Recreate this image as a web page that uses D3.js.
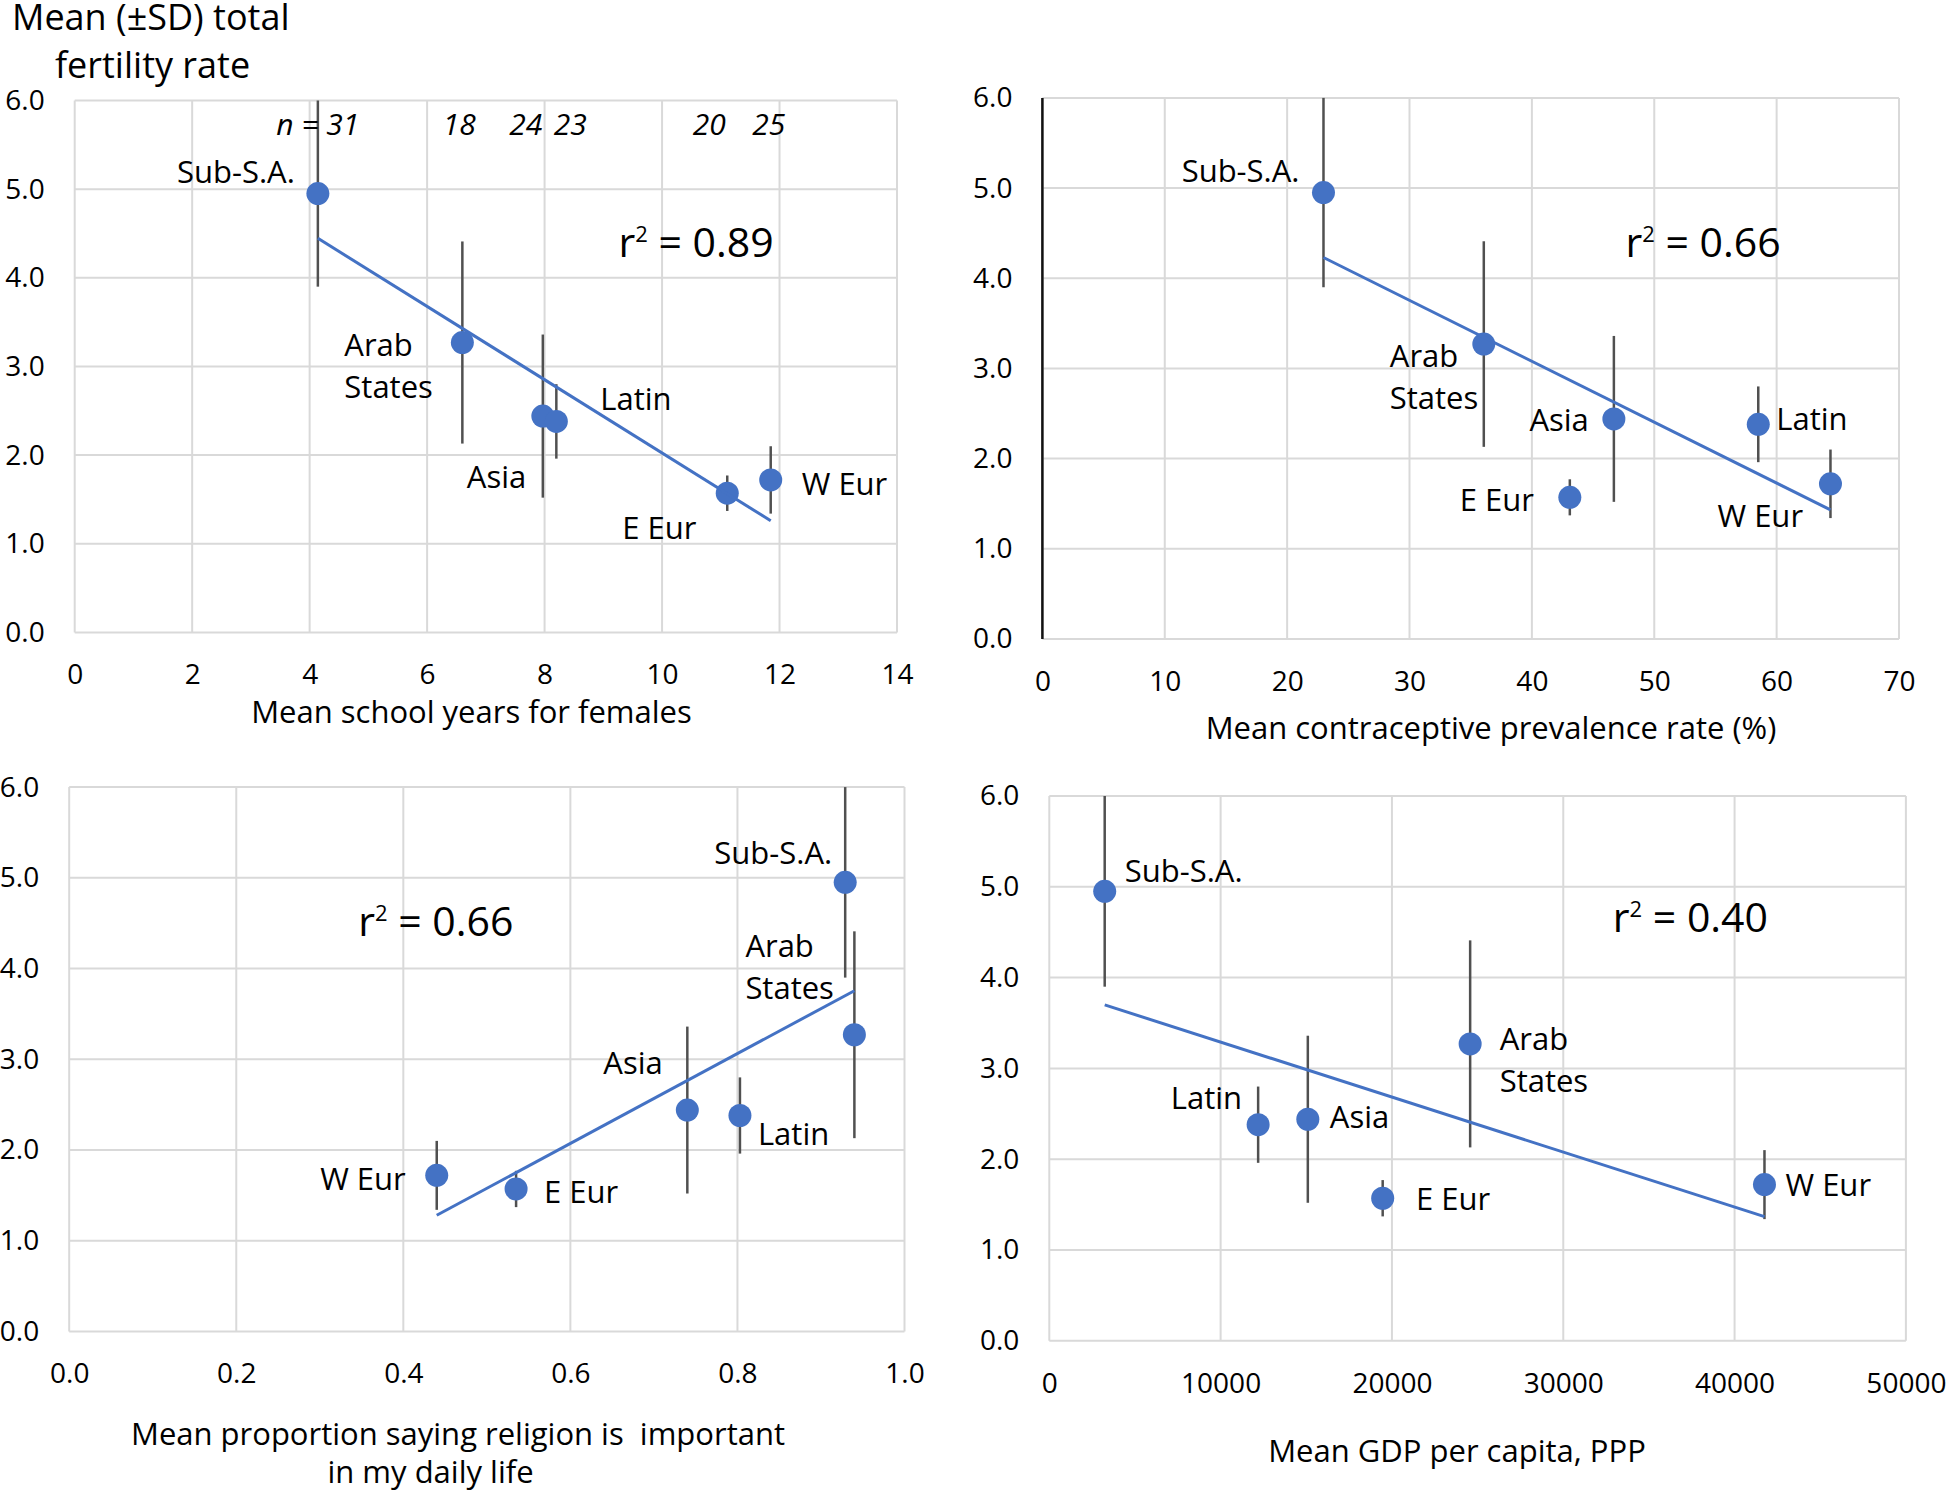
<!DOCTYPE html>
<html>
<head>
<meta charset="utf-8">
<script src="https://cdn.jsdelivr.net/npm/d3@7"></script>
<style>
  body { margin: 0; background: #fff; }
  svg { display: block; font-family: "Open Sans", sans-serif; }
</style>
</head>
<body>
<svg id="chart" width="1946" height="1492"></svg>
<script>
// DATA (region means)
var regions = ["Sub-S.A.", "Arab States", "Asia", "Latin", "E Eur", "W Eur"];
var regionLines = [["Sub-S.A."], ["Arab", "States"], ["Asia"], ["Latin"], ["E Eur"], ["W Eur"]];
var sampleN = [31, 18, 24, 23, 20, 25];
var tfrMean = [4.95, 3.27, 2.44, 2.38, 1.57, 1.72];
var tfrSD = [1.05, 1.14, 0.92, 0.42, 0.20, 0.38];

var schoolYears = [4.14, 6.60, 7.97, 8.20, 11.11, 11.85];
var contraception = [22.97, 36.07, 46.7, 58.5, 43.1, 64.4];
var religion = [0.929, 0.940, 0.740, 0.803, 0.535, 0.440];
var gdp = [3234, 24565, 15090, 12190, 19460, 41745];

var rSquared = ["0.89", "0.66", "0.66", "0.40"];

var yTicks = [0, 1, 2, 3, 4, 5, 6];
var schoolTicks = [0, 2, 4, 6, 8, 10, 12, 14];
var contraTicks = [0, 10, 20, 30, 40, 50, 60, 70];
var religionTicks = [0, 0.2, 0.4, 0.6, 0.8, 1.0];
var gdpTicks = [0, 10000, 20000, 30000, 40000, 50000];

// STYLE
var blue = "#4472C4";
var gridColor = "#d9d9d9";
var barColor = "#505050";
var r = 11.5;

var svg = d3.select("#chart");

// panel layout: plot box, axis titles, label offsets (dx, dy from point, anchor)
var panels = [
    {
        xs: schoolYears, domain: [0, 14], ticks: schoolTicks, fmt: d3.format("d"),
        box: { l: 74.7, r: 897, t: 100.5, b: 632.4 },
        titles: [{ text: "Mean school years for females", x: 471.5, y: 712.6 }],
        r2: { x: 618.5, y: 243 },
        labels: [[-23, -21, "end"], [-118, 2.5, "start"], [-76, 61, "start"],
                 [44, -22, "start"], [-105, 35, "start"], [31, 4, "start"]],
        nLabels: { y: 124, dx: [0, -3, -17, 14, -18, -2] }
    },
    {
        xs: contraception, domain: [0, 70], ticks: contraTicks, fmt: d3.format("d"),
        box: { l: 1042.4, r: 1899, t: 97.9, b: 638.9 },
        titles: [{ text: "Mean contraceptive prevalence rate (%)", x: 1491, y: 728 }],
        r2: { x: 1625.4, y: 242.4 },
        blackAxis: true,
        labels: [[-24, -21, "end"], [-94, 12, "start"], [-25, 1, "end"],
                 [18, -5, "start"], [-36, 2.5, "end"], [-113, 32, "start"]]
    },
    {
        xs: religion, domain: [0, 1], ticks: religionTicks, fmt: d3.format(".1f"),
        box: { l: 69.2, r: 904.5, t: 787.1, b: 1331.4 },
        titles: [{ text: "Mean proportion saying religion is  important", x: 458, y: 1434.6 },
                 { text: "in my daily life", x: 430.5, y: 1472.5 }],
        r2: { x: 358.2, y: 922 },
        labels: [[-13, -29, "end"], [-109, -88.7, "start"], [-84, -46.6, "start"],
                 [18, 19, "start"], [28, 3.3, "start"], [-31, 3.3, "end"]]
    },
    {
        xs: gdp, domain: [0, 50000], ticks: gdpTicks, fmt: d3.format("d"),
        box: { l: 1049.3, r: 1905.9, t: 796, b: 1340.8 },
        titles: [{ text: "Mean GDP per capita, PPP", x: 1457, y: 1451 }],
        r2: { x: 1612.8, y: 917.3 },
        labels: [[20, -20, "start"], [29.5, -5, "start"], [22, -2.3, "start"],
                 [-16, -27, "end"], [33.4, 1, "start"], [21, 0.5, "start"]]
    }
];

// least squares fit of the means
function fit(xs, ys) {
    var mx = d3.mean(xs), my = d3.mean(ys);
    var sxy = d3.sum(xs, function (d, i) { return (d - mx) * (ys[i] - my); });
    var sxx = d3.sum(xs, function (d) { return (d - mx) * (d - mx); });
    var slope = sxy / sxx;
    return { slope: slope, intercept: my - slope * mx };
}

panels.forEach(function (p, pi) {
    var x = d3.scaleLinear().domain(p.domain).range([p.box.l, p.box.r]);
    var y = d3.scaleLinear().domain([0, 6]).range([p.box.b, p.box.t]);
    var g = svg.append("g");

    // gridlines
    g.selectAll(".vgrid").data(p.ticks).enter().append("line")
        .attr("x1", function (d) { return x(d); }).attr("x2", function (d) { return x(d); })
        .attr("y1", p.box.t).attr("y2", p.box.b)
        .attr("stroke", gridColor).attr("stroke-width", 2);
    g.selectAll(".hgrid").data(yTicks).enter().append("line")
        .attr("x1", p.box.l).attr("x2", p.box.r)
        .attr("y1", function (d) { return y(d); }).attr("y2", function (d) { return y(d); })
        .attr("stroke", gridColor).attr("stroke-width", 2);

    if (p.blackAxis) {
        g.append("line").attr("x1", p.box.l).attr("x2", p.box.l)
            .attr("y1", p.box.t).attr("y2", p.box.b)
            .attr("stroke", "#111").attr("stroke-width", 2.5);
    }

    // axes (labels only, Excel style)
    var ax = g.append("g").attr("transform", "translate(0," + p.box.b + ")")
        .call(d3.axisBottom(x).tickValues(p.ticks).tickFormat(p.fmt).tickSize(0).tickPadding(32));
    var ay = g.append("g").attr("transform", "translate(" + p.box.l + ",0)")
        .call(d3.axisLeft(y).tickValues(yTicks).tickFormat(d3.format(".1f")).tickSize(0).tickPadding(30));
    [ax, ay].forEach(function (a) {
        a.select(".domain").remove();
        a.selectAll("text").attr("font-size", 28).attr("fill", "#000")
            .attr("font-family", "'Open Sans', sans-serif");
    });

    // axis titles
    p.titles.forEach(function (t) {
        g.append("text").attr("x", t.x).attr("y", t.y).attr("dy", "0.35em")
            .attr("text-anchor", "middle").attr("font-size", 31)
            .style("white-space", "pre").text(t.text);
    });

    // error bars
    g.selectAll(".err").data(tfrMean).enter().append("line")
        .attr("x1", function (d, i) { return x(p.xs[i]); })
        .attr("x2", function (d, i) { return x(p.xs[i]); })
        .attr("y1", function (d, i) { return y(Math.min(6, d + tfrSD[i])); })
        .attr("y2", function (d, i) { return y(d - tfrSD[i]); })
        .attr("stroke", barColor).attr("stroke-width", 2.5);

    // points
    g.selectAll(".pt").data(tfrMean).enter().append("circle")
        .attr("cx", function (d, i) { return x(p.xs[i]); })
        .attr("cy", function (d) { return y(d); })
        .attr("r", r).attr("fill", blue);

    // trend line
    var f = fit(p.xs, tfrMean);
    var x0 = d3.min(p.xs), x1 = d3.max(p.xs);
    g.append("line")
        .attr("x1", x(x0)).attr("y1", y(f.intercept + f.slope * x0))
        .attr("x2", x(x1)).attr("y2", y(f.intercept + f.slope * x1))
        .attr("stroke", blue).attr("stroke-width", 3);

    // region labels
    regionLines.forEach(function (lines, i) {
        var o = p.labels[i];
        var lx = x(p.xs[i]) + o[0], ly = y(tfrMean[i]) + o[1];
        var t = g.append("text").attr("font-size", 31).attr("text-anchor", o[2]);
        lines.forEach(function (s, k) {
            t.append("tspan").attr("x", lx).attr("y", ly + k * 42.3).attr("dy", "0.35em").text(s);
        });
    });

    // r squared
    var rt = g.append("text").attr("x", p.r2.x).attr("y", p.r2.y).attr("dy", "0.35em")
        .attr("font-size", 41);
    rt.append("tspan").text("r");
    rt.append("tspan").attr("font-size", 22).attr("dy", -15).text("2");
    rt.append("tspan").attr("dy", 15).text(" = " + rSquared[pi]);

    // sample sizes
    if (p.nLabels) {
        g.selectAll(".n").data(sampleN).enter().append("text")
            .attr("x", function (d, i) { return x(p.xs[i]) + p.nLabels.dx[i]; })
            .attr("y", p.nLabels.y).attr("dy", "0.35em")
            .attr("text-anchor", "middle").attr("font-size", 30).attr("font-style", "italic")
            .text(function (d, i) { return i === 0 ? "n = " + d : d; });
    }
});

// shared y title
svg.append("text").attr("x", 12).attr("y", 30).attr("font-size", 36).text("Mean (\u00B1SD) total");
svg.append("text").attr("x", 55).attr("y", 78).attr("font-size", 36).text("fertility rate");
</script>
</body>
</html>
